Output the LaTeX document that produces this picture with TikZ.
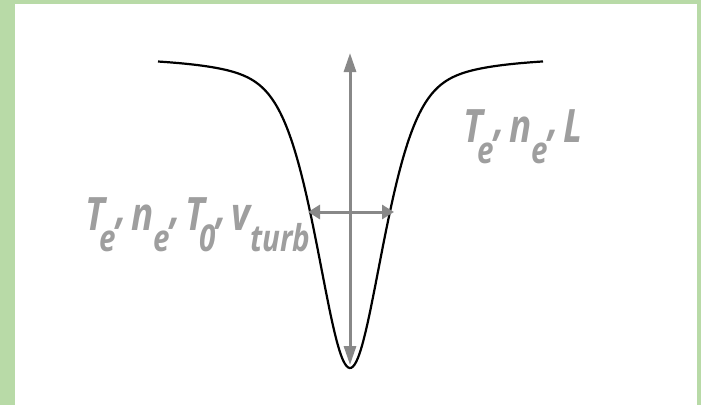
\documentclass[tikz,border=0pt]{standalone}
\usepackage{fontspec}
\usetikzlibrary{arrows.meta}
\newfontfamily\paramfont[FakeStretch=0.8]{Open Sans}
\definecolor{framegreen}{RGB}{184,218,167}
\definecolor{arrowgray}{RGB}{136,136,136}
\definecolor{labelgray}{RGB}{158,158,158}
\tikzset{
  profile/.style={draw=black,line width=2.2pt},
  depthflow/.style={{Triangle[length=19pt,width=12pt]}-{Triangle[length=19pt,width=12pt]},
    line width=3pt,draw=arrowgray},
  widthflow/.style={{Triangle[length=12pt,width=14pt]}-{Triangle[length=12pt,width=14pt]},
    line width=3pt,draw=arrowgray},
  param/.style={font=\paramfont\bfseries\itshape\fontsize{46}{46}\selectfont,
    text=labelgray,anchor=base west,inner sep=0pt}
}
\newcommand{\lsub}[1]{\raisebox{-21pt}{\fontsize{37}{37}\selectfont #1}}
\newcommand{\sep}{\raisebox{7pt}{,}\hspace{5pt}}

\begin{document}
\begin{tikzpicture}[x=1pt,y=-1pt]
  \useasboundingbox (0,0) rectangle (701,405);
  \fill[framegreen] (0,0) rectangle (701,405);
  \fill[white] (15,3.5) rectangle (697,405);
  % line profile
  \draw[profile] plot[domain=-192:193,samples=240,smooth]
    ({350+\x},{55+313*(0.5*exp(-0.693*(\x/40)*(\x/40))+0.5/(1+(\x/40)*(\x/40)))});
  \coordinate (top) at (350,53);
  \coordinate (bottom) at (350,365);
  \coordinate (wleft) at (308,212);
  \coordinate (wright) at (394,212);
  \draw[depthflow] (top)--(bottom);
  \draw[widthflow] (wleft)--(wright);
  \node[param] (coreparams) at (85,230)
    {T\kern-5pt\lsub{e}\sep n\lsub{e}\sep T\kern-5pt\lsub{0}\sep v\lsub{turb}};
  \node[param] (wingparams) at (463,142)
    {T\kern-5pt\lsub{e}\sep n\lsub{e}\sep L};
\end{tikzpicture}
\end{document}
